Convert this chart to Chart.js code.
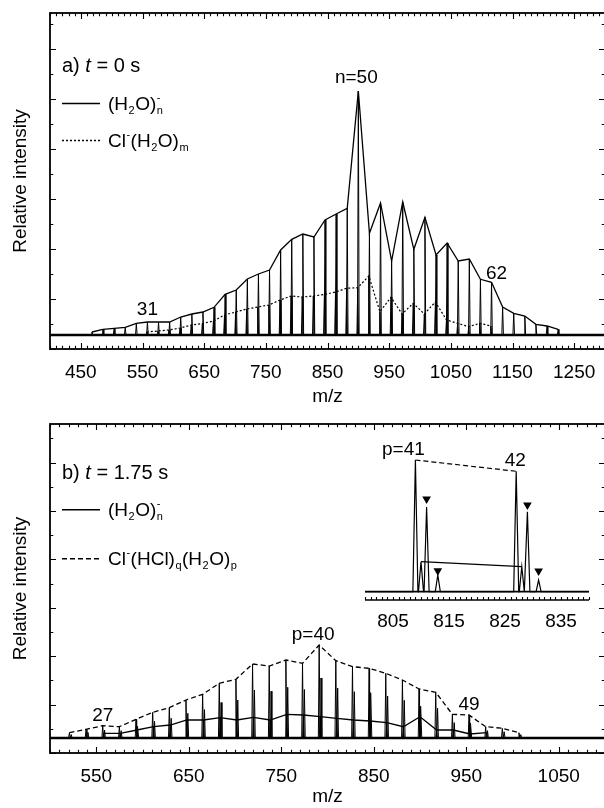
<!DOCTYPE html>
<html><head><meta charset="utf-8">
<script src="https://cdn.jsdelivr.net/npm/chart.js@4.4.1/dist/chart.umd.min.js"></script>
<style>
html,body{margin:0;padding:0;background:#fff;overflow:hidden;width:604px;height:808px;}
#wrap{position:relative;width:604px;height:808px;overflow:hidden;background:#fff;}
canvas{position:absolute;}
</style></head><body>
<div id="wrap">
<canvas id="cA" width="612" height="412" style="left:0;top:0"></canvas>
<canvas id="cB" width="612" height="396" style="left:0;top:412px"></canvas>
<canvas id="cI" width="250" height="215" style="left:355px;top:430px"></canvas>
</div>
<script>
// ===== Panel a) t = 0 s =====
// (H2O)n-  n = 26..68
const waterMzA = [468,486,504,522,540,558,576,594,612,630,648,666,684,702,720,738,756,774,792,810,828,846,864,882,900,918,936,954,972,990,1008,1026,1044,1062,1080,1098,1116,1134,1152,1170,1188,1206,1224];
const waterHA  = [3,5.7,6.7,7.7,11.7,13,13,13,18,21,23,27.7,40.7,45,56,61,65,85,95.7,101,98,115,121,126.7,244,101.7,132,74,133,85.7,117.7,80,92,74,76,55.7,52.7,28,21.7,19,10.7,9,5.7];
// Cl-(H2O)m  m = 29..60
const clMzA = [557,575,593,611,629,647,665,683,701,719,737,755,773,791,809,827,845,863,881,899,917,935,953,971,989,1007,1025,1043,1061,1079,1097,1115];
const clHA  = [3,4,5,7,10,11.5,14,20,23,26,28,30,35,39,38,39,40.5,43,46.7,47.3,59,23.3,37.7,21,31.7,21,33,15,11.7,8.3,11.7,9];
const tickLabelsA = [450,550,650,750,850,950,1050,1150,1250];

// ===== Panel b) t = 1.75 s =====
// Cl-(HCl)q(H2O)p  p = 25..52
const clMzB = [521,539,557,575,593,611,629,647,665,683,701,719,737,755,773,791,809,827,845,863,881,899,917,935,953,971,989,1007];
const clHB  = [5.3,8.7,12.3,11.3,18.7,25.7,30.3,38,43.7,54.7,58.7,74,72,78,74.7,93,77.3,71.3,69.7,64.7,58,49,45.7,23.7,23,11.3,9.7,5.3];
// isotope companions (+2)
const clIsoMzB = [523,541,559,577,595,613,631,649,667,685,703,721,739,757,775,793,811,829,847,865,883,901,919,937,955,973,991,1009];
const clIsoHB  = [3.4,5.6,8,7.3,12,16.7,19.7,24.7,28.4,35.5,38,48,46.8,50.7,48.5,60,50,46.3,45.3,42,37.7,31.8,29.7,15.4,15,7.3,6.3,3.4];
// (H2O)n-  n = 31..54
const waterMzB = [558,576,594,612,630,648,666,684,702,720,738,756,774,792,810,828,846,864,882,900,918,936,954,972];
const waterHB  = [4.7,4.7,8,11.3,13,18,18,20.3,18,20.7,18,23.7,23,21.3,19.7,18,17,15.3,11.3,21.3,8,8,4,5.3];
const tickLabelsB = [550,650,750,850,950,1050];

// ===== Inset (805-835) =====
const insetMz = [809,810,811,813,827,828,829,831];
const insetH  = [131.7,30,84.7,16.7,120.4,25,80,11.7];
const insetMarkMz = [811,813,829,831];
const insetMarkH  = [92.7,21,86.7,20.7];
const insetClMz = [809,827], insetClH = [131.7,120.4];
const insetWaterMz = [810,828], insetWaterH = [30,25];
const tickLabelsI = [805,815,825,835];

const FAM = '"Liberation Sans", Arial, Helvetica, sans-serif';

function pts(xs, ys){ return xs.map((v,i)=>({x:v,y:ys[i]})); }
function sticks(peaks, hb, xmin, xmax){
  const list = peaks.slice().sort((a,b)=>a[0]-b[0]);
  const out = [{x:xmin,y:0}];
  for (const [m,h] of list){ out.push({x:m-hb,y:0},{x:m,y:h},{x:m+hb,y:0}); }
  out.push({x:xmax,y:0});
  return out;
}
function zip(a,b){ return a.map((v,i)=>[v,b[i]]); }

function rich(ctx, x, yBase, parts, size, sub){
  let cx = x;
  for (const p of parts){
    const [t,k,s] = p;
    if (k==='n' || k==='i'){
      ctx.font = (k==='i'?'italic ':'') + size + 'px ' + FAM;
      ctx.fillText(t, cx, yBase); cx += ctx.measureText(t).width;
    } else if (k==='sub'){
      ctx.font = sub + 'px ' + FAM;
      ctx.fillText(t, cx+0.5, yBase+4);
      let w = ctx.measureText(t).width;
      if (s){ ctx.fillText(s, cx+0.5, yBase-9.5); w = Math.max(w, ctx.measureText(s).width); }
      cx += w + 1;
    } else if (k==='sup'){
      ctx.font = sub + 'px ' + FAM;
      ctx.fillText(t, cx+0.5, yBase-9.5); cx += ctx.measureText(t).width + 1;
    }
  }
}

const frameTicks = {
  id:'frameTicks',
  afterDraw(chart, args, o){
    const {ctx, chartArea:a, scales:{x,y}} = chart;
    ctx.save();
    ctx.strokeStyle = '#000';
    ctx.lineWidth = 1.1;
    ctx.beginPath();
    const nx = Math.round((x.max-x.min)/o.xMinor);
    for (let i=0;i<=nx;i++){
      const v = x.min + i*o.xMinor;
      const px = Math.round(x.getPixelForValue(v))+0.5;
      const major = (((v%100)+100)%100) === o.xMajorMod;
      const len = major ? o.majorLen : o.minorLen;
      ctx.moveTo(px, a.bottom); ctx.lineTo(px, a.bottom-len);
      if (o.top){ ctx.moveTo(px, a.top); ctx.lineTo(px, a.top+len); }
    }
    if (o.yStep){
      const ny = Math.floor((y.max-y.min)/o.yStep + 1e-6);
      for (let j=0;j<=ny;j++){
        const v = y.min + j*o.yStep;
        const py = Math.round(y.getPixelForValue(v))+0.5;
        const len = j%2===0 ? o.majorLen : o.minorLen;
        ctx.moveTo(a.left, py); ctx.lineTo(a.left+len, py);
        ctx.moveTo(a.right, py); ctx.lineTo(a.right-len, py);
      }
    }
    ctx.stroke();
    ctx.lineWidth = o.frameWidth;
    if (o.box){
      ctx.strokeRect(a.left, a.top, a.right-a.left, a.bottom-a.top);
    } else {
      ctx.beginPath(); ctx.moveTo(a.left, a.bottom); ctx.lineTo(a.right, a.bottom); ctx.stroke();
    }
    ctx.restore();
  }
};

const texts = {
  id:'texts',
  afterDraw(chart, args, o){
    const {ctx, chartArea:a, scales:{x,y}} = chart;
    ctx.save();
    ctx.fillStyle = '#000'; ctx.strokeStyle = '#000';
    ctx.textBaseline = 'alphabetic';
    if (o.title){
      ctx.textAlign = 'left';
      rich(ctx, a.left+12, a.top+o.title.dy, o.title.parts, 20, 11);
    }
    for (const L of (o.legend||[])){
      const ly = a.top + L.dy;
      ctx.lineWidth = 1.4;
      ctx.setLineDash(L.dash);
      ctx.beginPath(); ctx.moveTo(a.left+12, ly+0.5); ctx.lineTo(a.left+50, ly+0.5); ctx.stroke();
      ctx.setLineDash([]);
      ctx.textAlign = 'left';
      rich(ctx, a.left+58, ly+7, L.parts, 19, 11);
    }
    ctx.textAlign = 'center';
    ctx.font = '19px ' + FAM;
    for (const t of (o.labels||[])){
      const px = x.getPixelForValue(t.mz) + t.dx;
      const py = y.getPixelForValue(t.h) - t.dy;
      ctx.fillText(t.text, px, py + 7);
    }
    ctx.restore();
  }
};

function xAxis(min, max, labels, height, pad, titlePad, withTitle){
  return {
    type:'linear', position:'bottom', min, max,
    afterBuildTicks: s => { s.ticks = labels.map(v=>({value:v})); },
    afterFit: s => { s.height = height; },
    ticks:{ font:{size:19, family:FAM}, color:'#000', padding:pad, maxRotation:0, autoSkip:false,
            callback: v => String(v) },
    grid:{ display:false, drawTicks:false },
    border:{ display:false },
    title:{ display:withTitle, text:'m/z', color:'#000', font:{size:19, family:FAM}, padding:{top:0,bottom:titlePad} }
  };
}
function yAxis(min, max){
  return {
    type:'linear', position:'left', min, max,
    afterFit: s => { s.width = 50; },
    ticks:{ display:false },
    grid:{ display:false, drawTicks:false },
    border:{ display:false },
    title:{ display:true, text:'Relative intensity', color:'#000', font:{size:19, family:FAM}, padding:{top:9,bottom:0} }
  };
}

const LINE = {showLine:true, pointRadius:0, borderColor:'#000', tension:0, fill:false};

// ---------- Chart A ----------
new Chart(document.getElementById('cA'), {
  type:'scatter',
  data:{ datasets:[
    {...LINE, data: sticks(zip(waterMzA,waterHA).concat(zip(clMzA,clHA)), 1.3, 400, 1300), borderWidth:1},
    {...LINE, data: [{x:400,y:0},{x:1300,y:0}], borderWidth:2.6},
    {...LINE, data: pts(clMzA, clHA), borderWidth:1.2, borderDash:[2,2]},
    {...LINE, data: pts(waterMzA, waterHA), borderWidth:1.3}
  ]},
  options:{
    responsive:false, animation:false, devicePixelRatio:1,
    layout:{ padding:{left:0, right:7, top:13, bottom:0} },
    scales:{ x: xAxis(400,1300,tickLabelsA,63,12,3.5,true), y: yAxis(-14,322) },
    plugins:{
      legend:{display:false}, tooltip:{enabled:false},
      frameTicks:{ xMinor:10, xMajorMod:50, majorLen:6, minorLen:3.3, yStep:25, frameWidth:1.8, top:true, box:true },
      texts:{
        title:{ dy:59, parts:[['a) ','n'],['t','i'],[' = 0 s','n']] },
        legend:[
          { dy:90, dash:[], parts:[['(H','n'],['2','sub'],['O)','n'],['n','sub','-']] },
          { dy:127, dash:[2,2], parts:[['Cl','n'],['-','sup'],['(H','n'],['2','sub'],['O)','n'],['m','sub']] }
        ],
        labels:[
          { text:'n=50', mz:waterMzA[24], h:waterHA[24], dx:-2, dy:14.7 },
          { text:'31', mz:waterMzA[5], h:waterHA[5], dx:0, dy:14 },
          { text:'62', mz:waterMzA[36], h:waterHA[36], dx:5, dy:10.6 }
        ]
      }
    }
  },
  plugins:[frameTicks, texts]
});

// ---------- Chart B ----------
new Chart(document.getElementById('cB'), {
  type:'scatter',
  data:{ datasets:[
    {...LINE, data: sticks(zip(clMzB,clHB).concat(zip(clIsoMzB,clIsoHB)).concat(zip(waterMzB,waterHB)), 0.9, 500, 1100), borderWidth:1},
    {...LINE, data: [{x:500,y:0},{x:1100,y:0}], borderWidth:2.6},
    {...LINE, data: pts(clMzB, clHB), borderWidth:1.3, borderDash:[5,3]},
    {...LINE, data: pts(waterMzB, waterHB), borderWidth:1.3}
  ]},
  options:{
    responsive:false, animation:false, devicePixelRatio:1,
    layout:{ padding:{left:0, right:7, top:12, bottom:0} },
    scales:{ x: xAxis(500,1100,tickLabelsB,55,12,0,true), y: yAxis(-15,314) },
    plugins:{
      legend:{display:false}, tooltip:{enabled:false},
      frameTicks:{ xMinor:10, xMajorMod:50, majorLen:6, minorLen:3.3, yStep:24.2, frameWidth:1.8, top:true, box:true },
      texts:{
        title:{ dy:54.5, parts:[['b) ','n'],['t','i'],[' = 1.75 s','n']] },
        legend:[
          { dy:85.3, dash:[], parts:[['(H','n'],['2','sub'],['O)','n'],['n','sub','-']] },
          { dy:134.3, dash:[5,3], parts:[['Cl','n'],['-','sup'],['(HCl)','n'],['q','sub'],['(H','n'],['2','sub'],['O)','n'],['p','sub']] }
        ],
        labels:[
          { text:'p=40', mz:clMzB[15], h:clHB[15], dx:-6, dy:11.7 },
          { text:'27', mz:clMzB[2], h:clHB[2], dx:0, dy:11.7 },
          { text:'49', mz:clMzB[24], h:clHB[24], dx:0, dy:11.7 }
        ]
      }
    }
  },
  plugins:[frameTicks, texts]
});

// ---------- Inset ----------
new Chart(document.getElementById('cI'), {
  type:'scatter',
  data:{ datasets:[
    {...LINE, data: sticks(zip(insetMz, insetH), 0.45, 800, 840), borderWidth:1.2},
    {...LINE, data: [{x:800,y:0},{x:840,y:0}], borderWidth:1.8},
    {...LINE, data: pts(insetClMz, insetClH), borderWidth:1.2, borderDash:[5,3]},
    {...LINE, data: pts(insetWaterMz, insetWaterH), borderWidth:1.2},
    {showLine:false, data: pts(insetMarkMz, insetMarkH), pointStyle:'triangle', rotation:180, pointRadius:5, backgroundColor:'#000', borderColor:'#000', borderWidth:0}
  ]},
  options:{
    responsive:false, animation:false, devicePixelRatio:1,
    layout:{ padding:{left:10, right:16, top:10, bottom:0} },
    scales:{
      x: xAxis(800,840,tickLabelsI,45,10,0,false),
      y: { type:'linear', min:-8.3, max:151.7, display:false }
    },
    plugins:{
      legend:{display:false}, tooltip:{enabled:false},
      frameTicks:{ xMinor:1, xMajorMod:-1, majorLen:3, minorLen:3, yStep:0, frameWidth:1.5, top:false, box:false },
      texts:{
        labels:[
          { text:'p=41', mz:insetClMz[0], h:insetClH[0], dx:-12, dy:11.7 },
          { text:'42', mz:insetClMz[1], h:insetClH[1], dx:-1, dy:12 }
        ]
      }
    }
  },
  plugins:[frameTicks, texts]
});
</script>
</body></html>
